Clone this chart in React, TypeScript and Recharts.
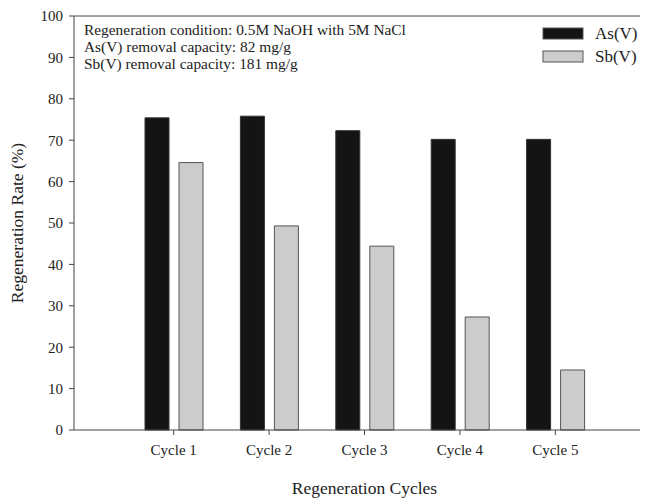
import { Bar, BarChart, ReferenceLine, XAxis, YAxis } from "recharts";

const cycles = ["Cycle 1", "Cycle 2", "Cycle 3", "Cycle 4", "Cycle 5"];
const asRates = [75.4, 75.8, 72.3, 70.2, 70.2];
const sbRates = [64.6, 49.3, 44.4, 27.3, 14.5];
const yTicks = [0, 10, 20, 30, 40, 50, 60, 70, 80, 90, 100];
const notes = [
    "Regeneration condition: 0.5M NaOH with 5M NaCl",
    "As(V) removal capacity: 82 mg/g",
    "Sb(V) removal capacity: 181 mg/g",
];
const seriesNames = ["As(V)", "Sb(V)"];

const data = cycles.map((cycle, i) => ({ cycle, as: asRates[i], sb: sbRates[i] }));

const FONT = "'Liberation Serif', 'Times New Roman', serif";
const AXIS = "#444";
const TEXT = "#222";
const DARK = "#141414";
const LIGHT = "#cccccc";
const fills = [DARK, LIGHT];

// notes in the top-left corner and the key in the top-right, hung off the 100% frame line
function FrameLabel({ viewBox }: any) {
    const { x, y, width } = viewBox;
    const keyX = x + width - 105;
    return (
        <g fontFamily={FONT} fill={TEXT}>
            {notes.map((line, i) => (
                <text key={line} x={x + 10} y={y + 19 + i * 17} fontSize={15.4}>
                    {line}
                </text>
            ))}
            {seriesNames.map((name, i) => (
                <g key={name}>
                    <rect x={keyX} y={y + 12 + i * 23} width={40} height={11} fill={fills[i]} stroke="#555" />
                    <text x={keyX + 52} y={y + 23 + i * 23} fontSize={17}>
                        {name}
                    </text>
                </g>
            ))}
        </g>
    );
}

export default function App() {
    return (
        <div style={{ fontFamily: FONT }}>
            <BarChart
                width={640}
                height={490}
                data={data}
                margin={{ top: 8, right: 0, bottom: 0, left: 0 }}
                barSize={24}
                barGap={10}
            >
                <XAxis
                    dataKey="cycle"
                    height={68}
                    padding={{ left: 52, right: 45 }}
                    stroke={AXIS}
                    tickSize={5}
                    tickMargin={9}
                    tick={{ fill: TEXT, fontSize: 15 }}
                    label={{
                        content: ({ viewBox }: any) => (
                            <text
                                x={viewBox.x + 52 + (viewBox.width - 97) / 2}
                                y={viewBox.y + 64}
                                textAnchor="middle"
                                fontSize={17.5}
                                fill={TEXT}
                            >
                                Regeneration Cycles
                            </text>
                        ),
                    }}
                />
                <YAxis
                    width={66}
                    domain={[0, 100]}
                    ticks={yTicks}
                    interval={0}
                    stroke={AXIS}
                    tickSize={5}
                    tickMargin={6}
                    tick={{ fill: TEXT, fontSize: 15 }}
                    label={{
                        content: ({ viewBox }: any) => {
                            const cx = viewBox.x + 9;
                            const cy = viewBox.y + viewBox.height / 2;
                            return (
                                <text
                                    x={cx}
                                    y={cy}
                                    transform={`rotate(-90 ${cx} ${cy})`}
                                    textAnchor="middle"
                                    dominantBaseline="central"
                                    fontSize={17.5}
                                    fill={TEXT}
                                >
                                    Regeneration Rate (%)
                                </text>
                            );
                        },
                    }}
                />
                <ReferenceLine y={100} stroke={AXIS} label={<FrameLabel />} />
                <Bar dataKey="as" name={seriesNames[0]} fill={DARK} stroke="#333" isAnimationActive={false} />
                <Bar dataKey="sb" name={seriesNames[1]} fill={LIGHT} stroke="#555" isAnimationActive={false} />
            </BarChart>
        </div>
    );
}
